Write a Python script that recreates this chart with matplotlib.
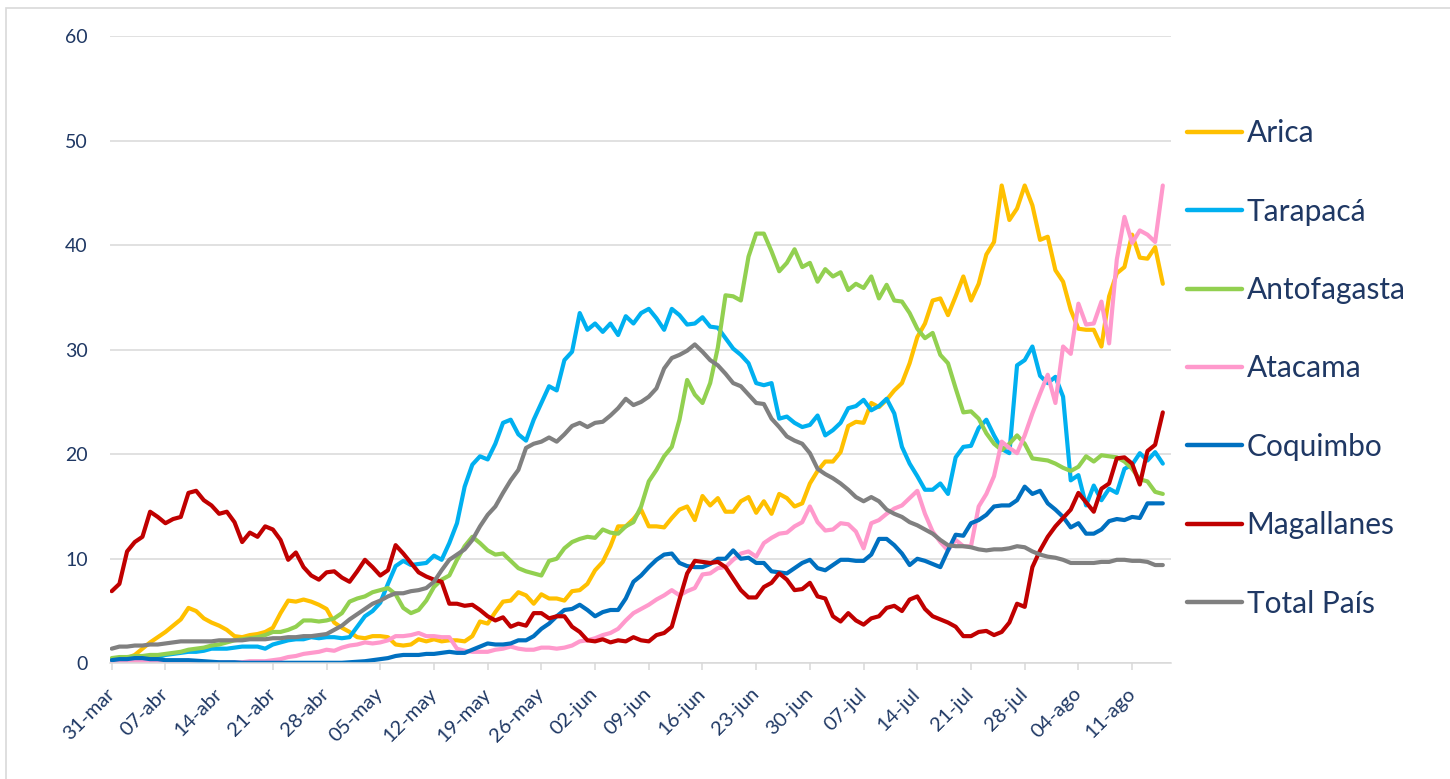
import numpy as np
import pandas as pd
import matplotlib
matplotlib.use("Agg")
import matplotlib.pyplot as plt
from matplotlib.patches import Rectangle

plt.rcParams['font.family'] = ['Lato', 'DejaVu Sans']

# ---- data: one value per day from 31-mar ----
start = "2020-03-31"

arica = [
    0.3, 0.4, 0.5, 0.8, 1.4, 2.0, 2.5, 3.0, 3.6, 4.2, 5.3, 5.0, 4.3, 3.9, 3.6, 3.2,
    2.6, 2.5, 2.7, 2.8, 3.0, 3.4, 4.8, 6.0, 5.9, 6.1, 5.9, 5.6, 5.2, 3.9, 3.4, 3.0,
    2.5, 2.4, 2.6, 2.6, 2.5, 1.8, 1.7, 1.8, 2.3, 2.1, 2.3, 2.1, 2.2,
    2.2, 2.1, 2.6, 4.0, 3.8, 4.9, 5.9, 6.0, 6.8, 6.5, 5.7, 6.6, 6.2, 6.2, 6.0, 6.9,
    7.0, 7.6, 8.9, 9.7, 11.2, 13.1, 13.1, 13.8, 14.7, 13.1, 13.1, 13.0, 13.9, 14.7,
    15.0, 13.7, 16.0, 15.1, 15.8, 14.5, 14.5, 15.5, 15.9, 14.4,
    15.5, 14.3, 16.2, 15.8, 15.0, 15.3, 17.2, 18.4, 19.3, 19.3, 20.2, 22.7, 23.1,
    23.0, 24.9, 24.5, 25.2, 26.1,
    26.8, 28.7, 31.2, 32.5, 34.7, 34.9, 33.3, 35.1, 37.0,
    34.7, 36.3, 39.1, 40.3, 45.7, 42.4, 43.5, 45.7, 43.8, 40.5, 40.8, 37.6, 36.5,
    33.8, 32.0, 31.9, 31.9, 30.3, 35.1, 37.3, 37.9, 41.0, 38.8, 38.7, 39.8, 36.3,
]

tarapaca = [
    0.3, 0.3, 0.4, 0.4, 0.5, 0.6, 0.6, 0.8, 0.9, 1.0, 1.1, 1.1, 1.2, 1.4, 1.4, 1.4,
    1.5, 1.6, 1.6, 1.6, 1.4, 1.8, 2.0, 2.2, 2.3, 2.3, 2.5, 2.4, 2.5, 2.5, 2.4, 2.5,
    3.5, 4.5, 5.0, 5.8, 7.6, 9.3, 9.8, 9.4, 9.5, 9.6, 10.3, 9.9, 11.5,
    13.4, 16.9, 19.0, 19.8, 19.5, 21.0, 23.0, 23.3, 21.9, 21.3, 23.3, 24.9, 26.5,
    26.1, 29.0, 29.8, 33.5, 31.9, 32.5, 31.7, 32.5, 31.4, 33.2, 32.5, 33.5, 33.9,
    33.0, 31.9, 33.9, 33.3, 32.4, 32.5, 33.1, 32.2, 32.1, 31.1, 30.1, 29.5, 28.7, 26.8,
    26.6, 26.8, 23.4, 23.6, 23.0, 22.6, 22.8, 23.7, 21.8, 22.3, 23.0, 24.4, 24.6,
    25.2, 24.2, 24.6, 25.3, 23.9,
    20.7, 19.1, 17.9, 16.6, 16.6, 17.2, 16.2, 19.7, 20.7, 20.8, 22.5, 23.3, 21.8,
    20.5, 20.1, 28.5, 29.0, 30.3, 27.5, 26.8, 27.4, 25.5, 17.5, 18.0, 15.1, 17.0,
    15.6, 16.7, 16.3, 18.6, 19.0, 20.1, 19.4, 20.2, 19.1,
]

antofagasta = [
    0.5, 0.6, 0.6, 0.7, 0.7, 0.8, 0.8, 0.9, 1.0, 1.1, 1.3, 1.4, 1.5, 1.7, 1.8, 2.0,
    2.2, 2.3, 2.4, 2.5, 2.7, 3.0, 3.0, 3.2, 3.5, 4.1, 4.1, 4.0, 4.1, 4.3, 4.8, 5.9,
    6.2, 6.4, 6.8, 7.0, 7.2, 6.6, 5.3, 4.8, 5.1, 6.0, 7.3, 8.0, 8.4,
    9.9, 11.2, 12.1, 11.5, 10.8, 10.4, 10.5, 9.8, 9.1, 8.8, 8.6, 8.4, 9.8, 10.0,
    11.0, 11.6, 11.9, 12.1, 12.0, 12.8, 12.5, 12.4, 13.1, 13.5, 15.0, 17.4, 18.5,
    19.8, 20.7, 23.3, 27.1, 25.7, 24.9, 26.8, 30.2,
    35.2, 35.1, 34.7, 38.9, 41.1, 41.1, 39.4, 37.5, 38.3, 39.6, 37.9, 38.3, 36.5,
    37.7, 37.0, 37.4, 35.7, 36.3, 35.9, 37.0, 34.9, 36.2, 34.7, 34.6, 33.5, 32.0,
    31.1, 31.6, 29.5, 28.7, 26.3, 24.0,
    24.1, 23.4, 22.0, 21.0, 20.4, 21.0, 21.8, 21.0, 19.6, 19.5, 19.4, 19.1, 18.7,
    18.4, 18.8, 19.8, 19.3, 19.9, 19.8, 19.7, 19.3, 18.6, 17.6, 17.4, 16.4, 16.2,
]

atacama = [
    0.1, 0.1, 0.1, 0.2, 0.2, 0.1, 0.1, 0.1, 0.1, 0.1, 0.1, 0.1, 0.1, 0.1, 0.1, 0.1,
    0.1, 0.1, 0.2, 0.2, 0.2, 0.3, 0.4, 0.6, 0.7, 0.9, 1.0, 1.1, 1.3, 1.2, 1.5, 1.7,
    1.8, 2.0, 1.9, 2.0, 2.2, 2.6, 2.6, 2.7, 2.9, 2.6, 2.6, 2.5, 2.5,
    1.4, 1.2, 1.1, 1.1, 1.1, 1.3, 1.4, 1.6, 1.4, 1.3, 1.3, 1.5, 1.5, 1.4, 1.5, 1.7,
    2.1, 2.2, 2.4, 2.7, 2.9, 3.3, 4.1, 4.8, 5.2, 5.6, 6.1, 6.5, 7.0, 6.5, 6.9,
    7.2, 8.5, 8.6, 9.1, 9.2, 9.9, 10.5, 10.7, 10.2, 11.5, 12.0, 12.4, 12.5, 13.1,
    13.5, 15.0, 13.5, 12.7, 12.8, 13.4, 13.3, 12.6, 11.0, 13.4, 13.7, 14.3, 14.8,
    15.1, 15.8, 16.5, 14.3, 12.6, 11.6, 10.8, 11.8, 11.2, 11.2, 15.0, 16.2, 17.9,
    21.2, 20.6, 20.1, 21.8, 23.9, 25.8, 27.6, 24.9, 30.3, 29.6, 34.4, 32.4, 32.5,
    34.6, 30.6, 38.6, 42.7, 40.2, 41.4, 41.0, 40.3, 45.7,
]

coquimbo = [
    0.3, 0.4, 0.4, 0.5, 0.5, 0.4, 0.4, 0.3, 0.3, 0.3, 0.3, 0.25, 0.2, 0.15, 0.1, 0.1,
    0.1, 0.05, 0.05, 0.05, 0.05, 0.05, 0.05, 0.05, 0.05, 0.05, 0.05, 0.05, 0.05, 0.05,
    0.05, 0.1, 0.15, 0.2, 0.3, 0.4, 0.5, 0.7, 0.8, 0.8, 0.8, 0.9, 0.9, 1.0, 1.1,
    1.0, 1.0, 1.3, 1.6, 1.9, 1.8, 1.8, 1.9, 2.2, 2.2, 2.6, 3.3, 3.8, 4.5, 5.1, 5.2,
    5.6, 5.1, 4.5, 4.9, 5.1, 5.1, 6.2, 7.8, 8.4, 9.2, 9.9, 10.4, 10.5, 9.6, 9.3,
    9.2, 9.2, 9.5, 10.0, 10.0, 10.8, 10.0, 10.1, 9.6,
    9.6, 8.8, 8.7, 8.6, 9.1, 9.6, 9.9, 9.1, 8.9, 9.4, 9.9, 9.9, 9.8, 9.8, 10.4,
    11.9, 11.9, 11.3,
    10.5, 9.4, 10.0, 9.8, 9.5, 9.2, 10.8, 12.3, 12.2, 13.4, 13.7, 14.2, 15.0, 15.1,
    15.1, 15.6, 16.9, 16.2, 16.5, 15.3, 14.7, 14.0, 13.0, 13.4, 12.4, 12.4, 12.8,
    13.6, 13.8, 13.7, 14.0, 13.9, 15.3, 15.3, 15.3,
]

magallanes = [
    6.9, 7.6, 10.7, 11.6, 12.1, 14.5, 14.0, 13.4, 13.8, 14.0, 16.3, 16.5, 15.6, 15.1,
    14.3, 14.5, 13.5, 11.6, 12.5, 12.1, 13.1, 12.8, 11.8, 9.9, 10.6, 9.2, 8.4, 8.0,
    8.7, 8.8, 8.2, 7.8, 8.8, 9.9, 9.2, 8.4, 8.9, 11.3, 10.5, 9.6, 8.7, 8.3, 8.0, 7.8,
    5.7,
    5.7, 5.5, 5.6, 5.1, 4.5, 4.1, 4.4, 3.5, 3.8, 3.6, 4.8, 4.8, 4.3, 4.5, 4.5, 3.5,
    3.0, 2.2, 2.1, 2.3, 2.0, 2.2, 2.1, 2.5, 2.2, 2.1, 2.7, 2.9, 3.5, 6.1, 8.6, 9.8,
    9.7, 9.6, 9.7, 9.2, 8.1, 7.0, 6.3, 6.3,
    7.3, 7.7, 8.6, 8.0, 7.0, 7.1, 7.7, 6.4, 6.2, 4.5, 4.0, 4.8, 4.1, 3.7, 4.3, 4.5,
    5.3, 5.5,
    5.0, 6.1, 6.4, 5.2, 4.5, 4.2, 3.9, 3.5, 2.6, 2.6, 3.0, 3.1, 2.7, 3.0, 3.9, 5.7,
    5.4, 9.2, 10.8, 12.1, 13.1, 13.9, 14.7, 16.3, 15.4, 14.5, 16.7, 17.2, 19.6, 19.7,
    19.1, 17.1, 20.3, 20.9, 24.0,
]

total_pais = [
    1.4, 1.6, 1.6, 1.7, 1.7, 1.8, 1.8, 1.9, 2.0, 2.1, 2.1, 2.1, 2.1, 2.1, 2.2, 2.2,
    2.2, 2.2, 2.3, 2.3, 2.3, 2.4, 2.4, 2.5, 2.5, 2.6, 2.6, 2.7, 2.8, 3.2, 3.6, 4.2,
    4.7, 5.2, 5.7, 6.0, 6.4, 6.7, 6.7, 6.9, 7.0, 7.2, 7.8, 8.9, 9.9,
    10.4, 10.9, 11.8, 13.1, 14.2, 15.0, 16.3, 17.5, 18.5, 20.6, 21.0, 21.2, 21.6,
    21.2, 21.9, 22.7, 23.0, 22.6, 23.0, 23.1, 23.7, 24.4, 25.3, 24.7, 25.0, 25.5,
    26.3, 28.2, 29.2, 29.5, 29.9, 30.5, 29.8, 29.0, 28.5, 27.7, 26.8, 26.5, 25.7, 24.9,
    24.8, 23.4, 22.6, 21.7, 21.3, 21.0, 20.1, 18.6, 18.1, 17.7, 17.2, 16.6, 15.9,
    15.5, 15.9, 15.5, 14.7, 14.3,
    14.0, 13.5, 13.2, 12.8, 12.4, 11.8, 11.3, 11.2, 11.2, 11.1, 10.9, 10.8, 10.9,
    10.9, 11.0, 11.2, 11.1, 10.7, 10.4, 10.2, 10.1, 9.9, 9.6, 9.6, 9.6, 9.6, 9.7,
    9.7, 9.9, 9.9, 9.8, 9.8, 9.7, 9.4, 9.4,
]

series_names = ["Arica", "Tarapacá", "Antofagasta", "Atacama", "Coquimbo",
                "Magallanes", "Total País"]
series_values = [arica, tarapaca, antofagasta, atacama, coquimbo, magallanes,
                 total_pais]
series_colors = ["#FFC000", "#00B0F0", "#92D050", "#FF99CC", "#0070C0",
                 "#C00000", "#808080"]

tick_labels = ["31-mar", "07-abr", "14-abr", "21-abr", "28-abr", "05-may",
               "12-may", "19-may", "26-may", "02-jun", "09-jun", "16-jun",
               "23-jun", "30-jun", "07-jul", "14-jul", "21-jul", "28-jul",
               "04-ago", "11-ago"]

y_ticks = [0, 10, 20, 30, 40, 50, 60]

# ---- plot ----
TEXT = "#1F3864"
GRID = "#D9D9D9"

dates = pd.date_range(start, periods=len(arica), freq="D")
t0 = dates[0]

fig = plt.figure(figsize=(14.5, 7.79), dpi=100)
ax = fig.add_axes([0.0759, 0.1485, 0.7317, 0.8053])

for name, vals, col in zip(series_names, series_values, series_colors):
    ax.plot(dates, vals, color=col, lw=3.0, label=name,
            solid_joinstyle="round", solid_capstyle="round")

ax.set_ylim(0, 60)
ax.set_yticks(y_ticks)
ax.set_xlim(t0 - pd.Timedelta(days=0.22), t0 + pd.Timedelta(days=138.07))
tick_dates = pd.date_range(start, periods=len(tick_labels), freq="7D")
ax.set_xticks(tick_dates)
ax.set_xticklabels(tick_labels, rotation=45, ha="right", va="center",
                   rotation_mode="anchor")

ax.grid(axis="y", color=GRID, lw=1.1)
ax.set_axisbelow(True)
for s in ["top", "right", "left"]:
    ax.spines[s].set_visible(False)
ax.spines["bottom"].set_color(GRID)
ax.spines["bottom"].set_linewidth(1.1)

ax.tick_params(axis="y", length=0, pad=16, labelsize=14, labelcolor=TEXT)
ax.tick_params(axis="x", length=5, width=1.1, color=GRID, pad=15,
               labelsize=14.5, labelcolor=TEXT)

leg = fig.legend(loc="center left", bbox_to_anchor=(1187 / 1450, 0.527),
                 frameon=False, fontsize=21.5, handlelength=1.85,
                 handletextpad=0.15, labelspacing=1.69, borderpad=0,
                 borderaxespad=0)
for txt in leg.get_texts():
    txt.set_color(TEXT)
for ln in leg.get_lines():
    ln.set_linewidth(3.2)
    ln.set_solid_capstyle("round")

# chart frame
fig.patches.append(Rectangle((6 / 1450, -0.05), 1.1, 1 - 7.5 / 779 + 0.05,
                             transform=fig.transFigure, fill=False,
                             edgecolor=GRID, lw=1.2))

fig.savefig("out.png", dpi=100)
